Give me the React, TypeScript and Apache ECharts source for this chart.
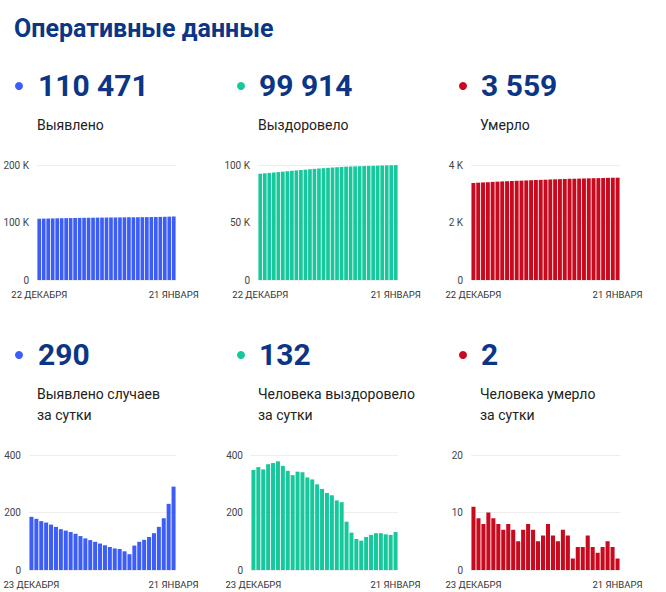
import React, { useEffect, useRef } from 'react';
import * as echarts from 'echarts';

const DATES_CUM = [
  '22 ДЕКАБРЯ', '23 ДЕКАБРЯ', '24 ДЕКАБРЯ', '25 ДЕКАБРЯ', '26 ДЕКАБРЯ', '27 ДЕКАБРЯ',
  '28 ДЕКАБРЯ', '29 ДЕКАБРЯ', '30 ДЕКАБРЯ', '31 ДЕКАБРЯ', '1 ЯНВАРЯ', '2 ЯНВАРЯ',
  '3 ЯНВАРЯ', '4 ЯНВАРЯ', '5 ЯНВАРЯ', '6 ЯНВАРЯ', '7 ЯНВАРЯ', '8 ЯНВАРЯ', '9 ЯНВАРЯ',
  '10 ЯНВАРЯ', '11 ЯНВАРЯ', '12 ЯНВАРЯ', '13 ЯНВАРЯ', '14 ЯНВАРЯ', '15 ЯНВАРЯ',
  '16 ЯНВАРЯ', '17 ЯНВАРЯ', '18 ЯНВАРЯ', '19 ЯНВАРЯ', '20 ЯНВАРЯ', '21 ЯНВАРЯ',
];
const DATES_DAILY = DATES_CUM.slice(1);

const CUM_CASES = [
  106591, 106776, 106954, 107124, 107289, 107447, 107597, 107739, 107876, 108008,
  108134, 108252, 108362, 108466, 108564, 108656, 108742, 108822, 108897, 108970,
  109035, 109090, 109175, 109273, 109378, 109493, 109621, 109771, 109951, 110181, 110471,
];
const CUM_RECOVERED = [
  92419, 92767, 93125, 93475, 93843, 94215, 94593, 94955, 95300, 95630,
  95972, 96312, 96634, 96949, 97247, 97529, 97797, 98057, 98299, 98535,
  98703, 98833, 98941, 99043, 99158, 99280, 99408, 99536, 99660, 99782, 99914,
];
const CUM_DEATHS = [
  3374, 3385, 3394, 3402, 3412, 3421, 3429, 3436, 3444, 3451,
  3456, 3463, 3471, 3478, 3483, 3489, 3497, 3503, 3508, 3515,
  3521, 3523, 3527, 3531, 3537, 3541, 3544, 3548, 3553, 3557, 3559,
];
const DAILY_CASES = [
  185, 178, 170, 165, 158, 150, 142, 137, 132, 126,
  118, 110, 104, 98, 92, 86, 80, 75, 73, 65,
  55, 85, 98, 105, 115, 128, 150, 180, 230, 290,
];
const DAILY_RECOVERED = [
  348, 358, 350, 368, 372, 378, 362, 345, 330, 342,
  340, 322, 315, 298, 282, 268, 260, 242, 236, 168,
  130, 108, 102, 115, 122, 128, 128, 124, 122, 132,
];
const DAILY_DEATHS = [
  11, 9, 8, 10, 9, 8, 7, 8, 7, 5,
  7, 8, 7, 5, 6, 8, 6, 5, 7, 6,
  2, 4, 4, 6, 4, 3, 4, 5, 4, 2,
];

const TITLE = 'Оперативные данные';
const HEADLINES = ['110 471', '99 914', '3 559', '290', '132', '2'];
const LABELS = [
  ['Выявлено'],
  ['Выздоровело'],
  ['Умерло'],
  ['Выявлено случаев', 'за сутки'],
  ['Человека выздоровело', 'за сутки'],
  ['Человека умерло', 'за сутки'],
];
const Y_MAX = [200000, 100000, 4000, 400, 400, 20];
const Y_STEP = [100000, 50000, 2000, 200, 200, 10];

const BLUE = '#3d5ef6';
const GREEN = '#17c89c';
const RED = '#c90a1e';
const NAVY = '#0c3586';

export default function App() {
  const ref = useRef<HTMLDivElement>(null);

  useEffect(() => {
    document.body.style.margin = '0';
    if (!ref.current) return;
    const chart = echarts.init(ref.current, null, { renderer: 'svg' });

    const seriesData = [CUM_CASES, CUM_RECOVERED, CUM_DEATHS, DAILY_CASES, DAILY_RECOVERED, DAILY_DEATHS];
    const colors = [BLUE, GREEN, RED, BLUE, GREEN, RED];
    const grids = [
      { left: 37, top: 165, width: 139, height: 115 },
      { left: 258, top: 165, width: 140, height: 115 },
      { left: 471, top: 165, width: 149, height: 115 },
      { left: 29, top: 455, width: 147, height: 115 },
      { left: 251, top: 455, width: 147, height: 115 },
      { left: 471, top: 455, width: 149, height: 115 },
    ];
    const colX = [19, 241, 463];
    const textX = [38, 259, 481];
    const rowNumY = [85, 354];
    const rowLabelY = [125, 394];

    const graphic: any[] = [
      {
        type: 'text', x: 14, y: 28,
        style: {
          text: TITLE, fontFamily: 'Roboto', fontWeight: 'bold', fontSize: 25, fill: NAVY,
          verticalAlign: 'middle', align: 'left',
        },
      },
    ];
    for (let i = 0; i < 6; i++) {
      const c = i % 3;
      const r = Math.floor(i / 3);
      graphic.push({
        type: 'circle', shape: { cx: colX[c], cy: rowNumY[r] + 1, r: 4 }, style: { fill: colors[i] },
      });
      graphic.push({
        type: 'text', x: textX[c], y: rowNumY[r],
        style: {
          text: HEADLINES[i], fontFamily: 'Roboto', fontWeight: 'bold', fontSize: 30,
          fill: NAVY, verticalAlign: 'middle', align: 'left',
        },
      });
      LABELS[i].forEach((line, k) => {
        graphic.push({
          type: 'text', x: textX[c] - 1, y: rowLabelY[r] + k * 21,
          style: {
            text: line, fontFamily: 'Roboto', fontSize: 14, fill: '#222',
            verticalAlign: 'middle', align: 'left',
          },
        });
      });
    }

    const yFmt = (v: number) => (v === 0 ? '0' : v >= 1000 ? `${v / 1000} K` : String(v));

    const option: any = {
      animation: false,
      graphic,
      grid: grids.map((g) => ({ ...g, containLabel: false })),
      xAxis: seriesData.map((d, i) => {
        const cats = i < 3 ? DATES_CUM : DATES_DAILY;
        const n = cats.length;
        return {
          type: 'category', gridIndex: i, data: cats,
          axisLine: { show: false }, axisTick: { show: false },
          axisLabel: {
            interval: (idx: number) => idx === 0 || idx === n - 1,
            showMinLabel: true, showMaxLabel: true, hideOverlap: false,
            fontFamily: 'Roboto', fontSize: 9.5, color: '#333', margin: 9,
          },
        };
      }),
      yAxis: seriesData.map((d, i) => ({
        type: 'value', gridIndex: i, min: 0, max: Y_MAX[i], interval: Y_STEP[i],
        axisLine: { show: false }, axisTick: { show: false },
        splitLine: { show: true, lineStyle: { color: '#eeeeee', width: 1 } },
        axisLabel: { formatter: yFmt, fontFamily: 'Roboto', fontSize: 10, color: '#444', margin: 8 },
      })),
      series: seriesData.map((d, i) => ({
        type: 'bar', xAxisIndex: i, yAxisIndex: i, data: d,
        barCategoryGap: '18%', itemStyle: { color: colors[i] },
      })),
    };

    chart.setOption(option);
    return () => chart.dispose();
  }, []);

  return <div ref={ref} style={{ width: 666, height: 592 }} />;
}
